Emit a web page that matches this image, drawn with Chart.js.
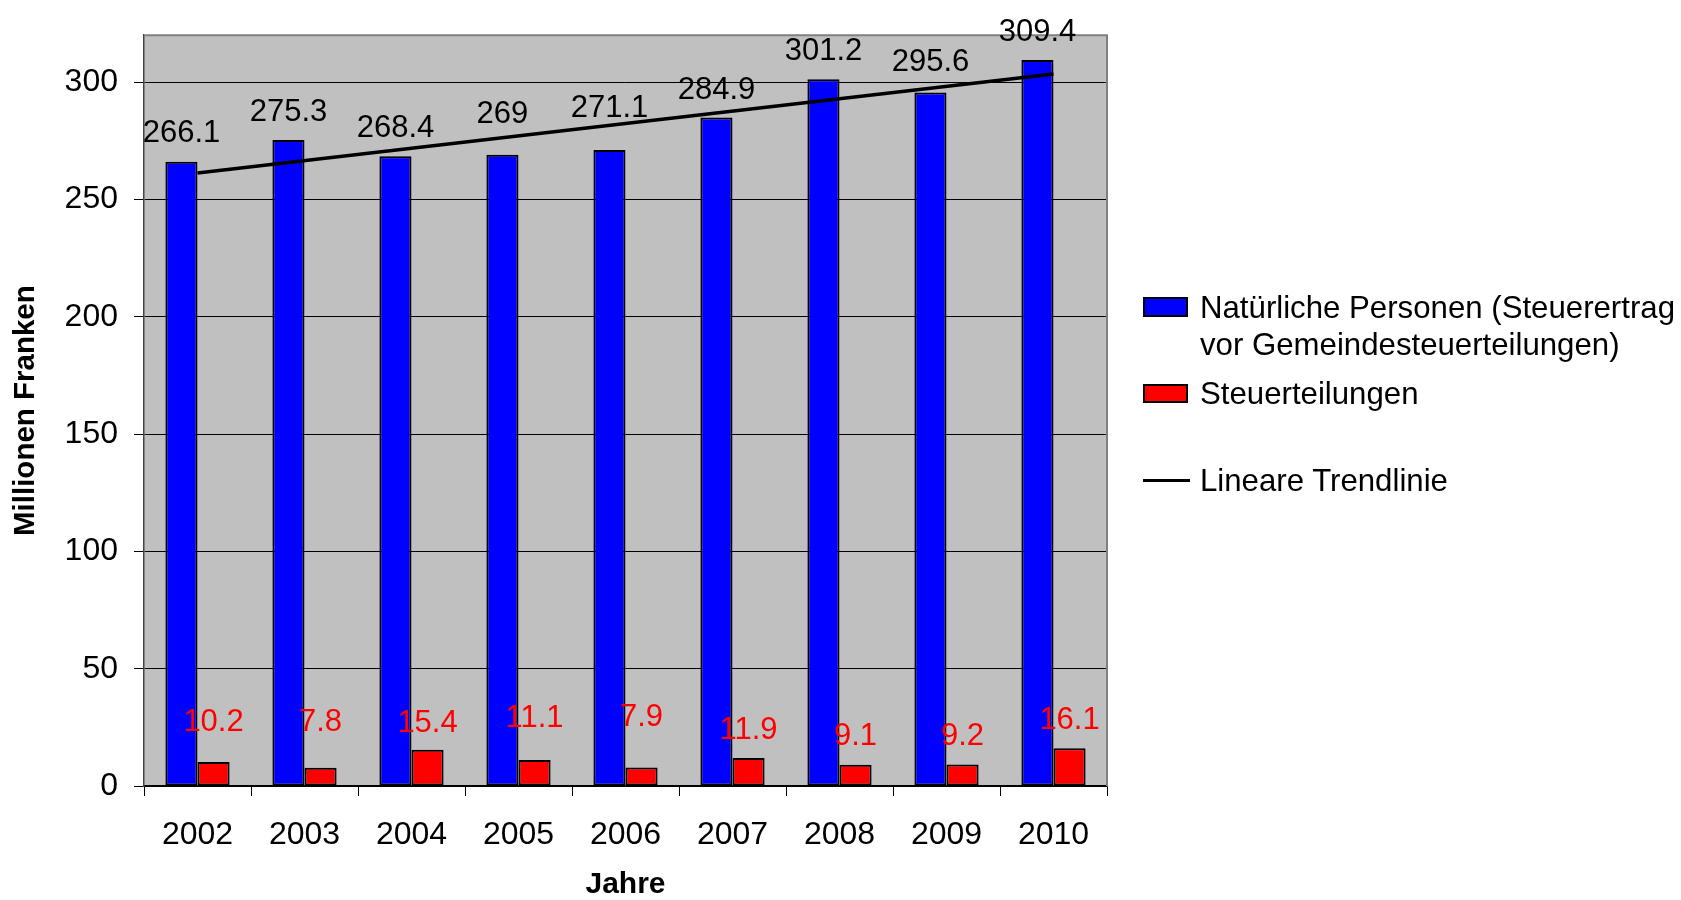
<!DOCTYPE html>
<html lang="de">
<head>
<meta charset="utf-8">
<title>Natürliche Personen 2002–2010</title>
<script src="https://cdn.jsdelivr.net/npm/chart.js@4.4.1/dist/chart.umd.min.js"></script>
<style>
  html, body { margin: 0; padding: 0; background: #fff; overflow: hidden; }
  #wrap { position: relative; width: 1681px; height: 900px; overflow: hidden; }
  #chart { position: absolute; left: 0; top: 0; }
  .leg { position: absolute; font-family: "Liberation Sans", Arial, sans-serif; font-size: 31.2px; line-height: 37px; color: #000; white-space: nowrap; }
  .box { position: absolute; box-sizing: border-box; border: 2px solid #000; }
</style>
</head>
<body>
<div id="wrap">
  <canvas id="chart" width="1681" height="900"></canvas>

  <!-- Legende rechts -->
  <div class="box" style="left:1143px; top:297px; width:45px; height:20px; background:#0000ff;"></div>
  <div class="leg" style="left:1200px; top:289px;">Natürliche Personen (Steuerertrag<br>vor Gemeindesteuerteilungen)</div>
  <div class="box" style="left:1143px; top:384px; width:45px; height:19px; background:#ff0000;"></div>
  <div class="leg" style="left:1200px; top:375px;">Steuerteilungen</div>
  <div style="position:absolute; left:1143px; top:479px; width:47px; height:3px; background:#000;"></div>
  <div class="leg" style="left:1200px; top:462px;">Lineare Trendlinie</div>
</div>

<script>
// Daten
const jahre = ['2002', '2003', '2004', '2005', '2006', '2007', '2008', '2009', '2010'];
const natuerlichePersonen = [266.1, 275.3, 268.4, 269, 271.1, 284.9, 301.2, 295.6, 309.4];
const steuerteilungen = [10.2, 7.8, 15.4, 11.1, 7.9, 11.9, 9.1, 9.2, 16.1];
// Trendlinie: nur Anfangs- und Endpunkt, dazwischen wird durchgezogen
const trendlinie = [261.3, null, null, null, null, null, null, null, 303.5];
const yTicks = [0, 50, 100, 150, 200, 250, 300];

// Abstand der Wertbeschriftung über dem Balken (px)
const abstandBlau = [20, 19, 19, 32, 33, 19, 19, 21, 19];
const abstandRot = [30.6, 36.2, 18.3, 33.2, 41.2, 18.8, 19.4, 19.6, 19.4];

const schrift = '"Liberation Sans", Arial, sans-serif';
Chart.defaults.font.family = schrift;
Chart.defaults.color = '#000';

// graue Zeichenfläche mit Rahmen oben und rechts
const plotFlaeche = {
  id: 'plotFlaeche',
  beforeDraw(chart) {
    const { ctx, chartArea: a } = chart;
    ctx.save();
    ctx.fillStyle = '#c0c0c0';
    ctx.fillRect(a.left, a.top, a.right - a.left, a.bottom - a.top);
    ctx.restore();
  },
  beforeDatasetsDraw(chart) {
    const { ctx, chartArea: a } = chart;
    ctx.save();
    ctx.strokeStyle = '#808080';
    ctx.lineWidth = 2;
    ctx.beginPath();
    ctx.moveTo(a.left, a.top);
    ctx.lineTo(a.right, a.top);
    ctx.lineTo(a.right, a.bottom);
    ctx.stroke();
    ctx.restore();
  }
};

// Werte über die Balken schreiben
const wertLabels = {
  id: 'wertLabels',
  afterDatasetsDraw(chart) {
    const ctx = chart.ctx;
    ctx.save();
    ctx.font = '31px ' + schrift;
    ctx.textAlign = 'center';
    ctx.textBaseline = 'alphabetic';
    chart.data.datasets.forEach((ds, i) => {
      if (!ds.labelFarbe) return;
      chart.getDatasetMeta(i).data.forEach((bar, j) => {
        ctx.fillStyle = ds.labelFarbe;
        ctx.fillText(String(ds.data[j]), bar.x, bar.y - ds.labelAbstand[j]);
      });
    });
    ctx.restore();
  }
};

new Chart(document.getElementById('chart'), {
  type: 'bar',
  data: {
    labels: jahre,
    datasets: [
      {
        type: 'line',
        label: 'Lineare Trendlinie',
        data: trendlinie,
        borderColor: '#000',
        borderWidth: 3.5,
        pointRadius: 0,
        spanGaps: true,
        order: -1
      },
      {
        label: 'Natürliche Personen (Steuerertrag vor Gemeindesteuerteilungen)',
        data: natuerlichePersonen,
        backgroundColor: '#0000ff',
        borderColor: '#000',
        borderWidth: 2,
        borderSkipped: false,
        labelFarbe: '#000',
        labelAbstand: abstandBlau
      },
      {
        label: 'Steuerteilungen',
        data: steuerteilungen,
        backgroundColor: '#ff0000',
        borderColor: '#000',
        borderWidth: 2,
        borderSkipped: false,
        labelFarbe: '#ff0000',
        labelAbstand: abstandRot
      }
    ]
  },
  options: {
    responsive: false,
    animation: false,
    categoryPercentage: 0.6,
    barPercentage: 1,
    layout: { padding: { left: 0, right: 574, top: 34, bottom: 0 } },
    plugins: {
      legend: { display: false },
      tooltip: { enabled: false }
    },
    scales: {
      x: {
        grid: { offset: true, drawOnChartArea: false, tickLength: 10, color: '#000', lineWidth: 1 },
        border: { color: '#000', width: 1.5 },
        ticks: { color: '#000', font: { size: 32 }, padding: 20, maxRotation: 0 },
        title: {
          display: true, text: 'Jahre', color: '#000',
          font: { size: 30, weight: 'bold', lineHeight: 1 },
          padding: { top: 0, bottom: 0 }
        },
        afterFit(scale) { scale.height = 114; }
      },
      y: {
        min: 0,
        max: 320,
        afterBuildTicks(scale) { scale.ticks = yTicks.map(v => ({ value: v })); },
        grid: { color: '#000', lineWidth: 1, tickLength: 10 },
        border: { color: '#444', width: 1.5 },
        ticks: { color: '#000', font: { size: 32 }, padding: 16 },
        title: {
          display: true, text: 'Millionen Franken', color: '#000',
          font: { size: 29.5, weight: 'bold', lineHeight: 1.2 },
          padding: { top: 8, bottom: 0 }
        },
        afterFit(scale) { scale.width = 144; }
      }
    }
  },
  plugins: [plotFlaeche, wertLabels]
});
</script>
</body>
</html>
